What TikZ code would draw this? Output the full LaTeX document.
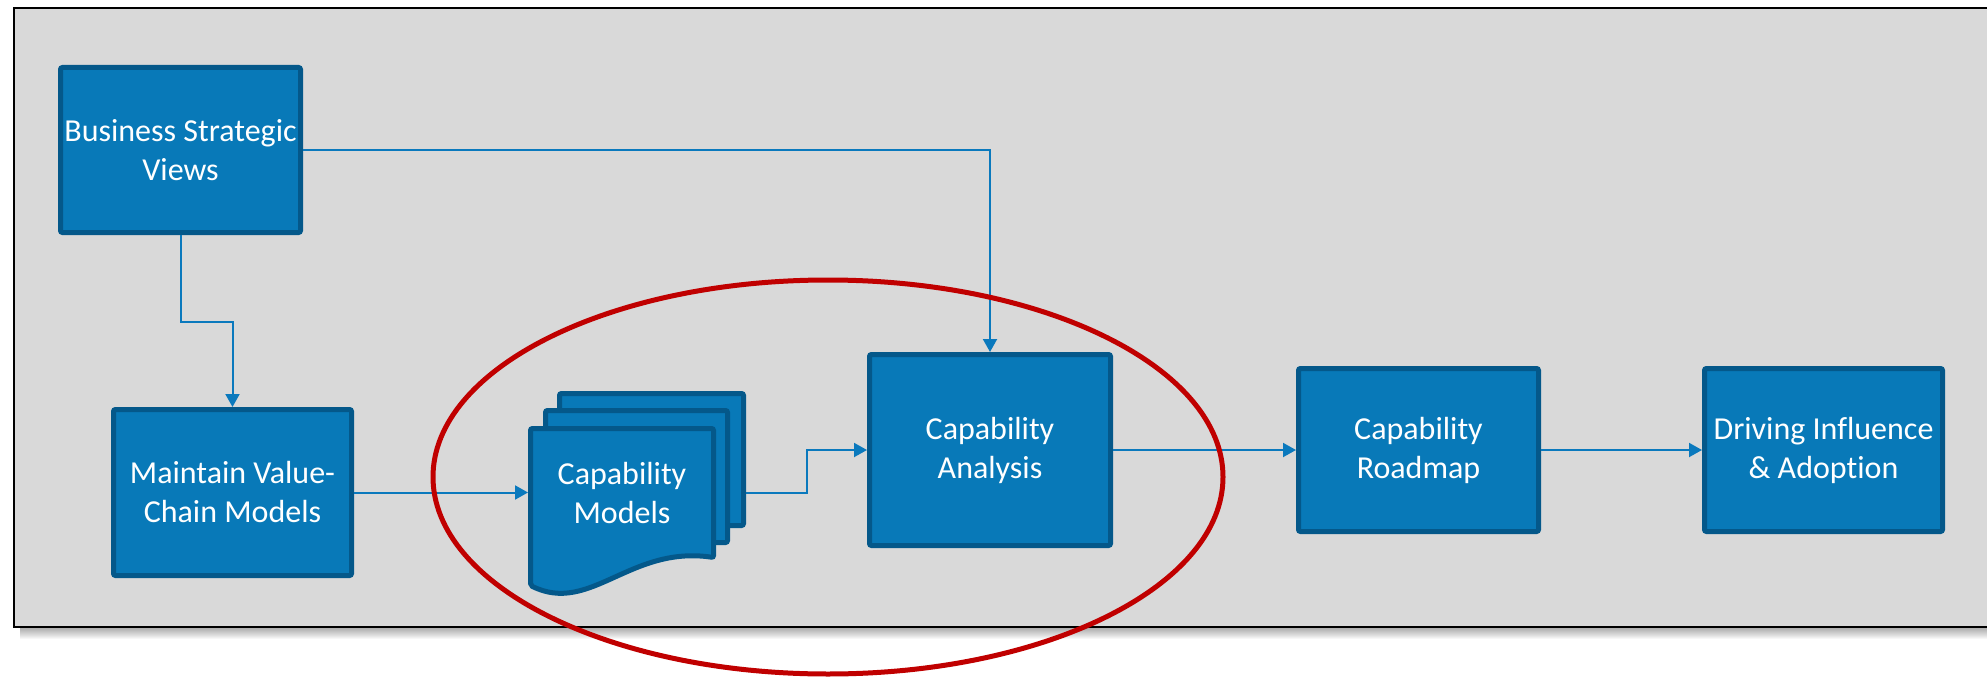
\documentclass[tikz,border=0pt]{standalone}
\usepackage{fontspec}
\setmainfont{Carlito}[Ligatures=NoCommon]
\usetikzlibrary{arrows.meta}
\definecolor{panelgray}{RGB}{217,217,217}
\definecolor{boxblue}{RGB}{8,121,184}
\definecolor{boxedge}{RGB}{4,88,138}
\definecolor{linkblue}{RGB}{10,121,189}
\definecolor{ringred}{RGB}{192,0,0}
\begin{document}
\begin{tikzpicture}[x=1pt,y=-1pt,
  label font/.style={font=\fontsize{32}{39}\selectfont},
  stepbox/.style={draw=boxedge, fill=boxblue, line width=5pt, rounded corners=2pt,
    text=white, align=center, label font, inner sep=0pt},
  pagebox/.style={draw=boxedge, fill=boxblue, line width=5pt, rounded corners=2pt},
  link/.style={draw=linkblue, line width=2pt, -{Triangle[length=13pt,width=14pt]}}
]
\useasboundingbox (0,0) rectangle (1987,677);
\clip (0,0) rectangle (1987,677);
\fill[white] (0,0) rectangle (1987,677);

% soft shadow under the panel
\foreach \k in {1,...,12}
  \fill[black, opacity=0.03] (20,627) rectangle (1995,627+\k);
% panel
\draw[black, line width=2pt, fill=panelgray] (14,8) rectangle (2000,627);

% process boxes
\node[stepbox, minimum width=240pt, minimum height=165pt] (bsv) at (180.5,150) {Business Strategic\\Views};
\node[stepbox, minimum width=238pt, minimum height=166pt] (mvc) at (232.5,492.5) {Maintain Value-\\Chain Models};
\node[stepbox, minimum width=241pt, minimum height=191pt] (ca) at (990,450) {Capability\\Analysis};
\node[stepbox, minimum width=240pt, minimum height=163pt] (cr) at (1418.5,450) {Capability\\Roadmap};
\node[stepbox, minimum width=238pt, minimum height=163pt] (di) at (1823.5,450) {Driving Influence\\\& Adoption};

% stacked documents
\node[pagebox, minimum width=184pt, minimum height=132pt] (back) at (651.5,459.5) {};
\node[pagebox, minimum width=182pt, minimum height=132pt] (mid) at (636.5,476.5) {};
\draw[pagebox] (530.5,585.5) -- (530.5,428.5) -- (713.5,428.5) -- (713.5,557.5)
  .. controls (630,545) and (590,615) .. (530.5,585.5) -- cycle;
\node[text=white, align=center, label font, inner sep=0pt] (models) at (622,493) {Capability\\Models};
\coordinate (docin) at (528,492.5);

% connectors
\draw[link] (bsv.east) -| (ca.north);
\draw[link] (bsv.south) -- ++(0,87) -| (mvc.north);
\draw[link] (mvc.east) -- (docin);
\draw[link] (back.east |- mvc.east) -- ++(61,0) |- (ca.west);
\draw[link] (ca.east) -- (cr.west);
\draw[link] (cr.east) -- (di.west);

% highlight ring
\draw[ringred, line width=5pt] (828,477) ellipse [x radius=395pt, y radius=197pt];
\end{tikzpicture}
\end{document}
